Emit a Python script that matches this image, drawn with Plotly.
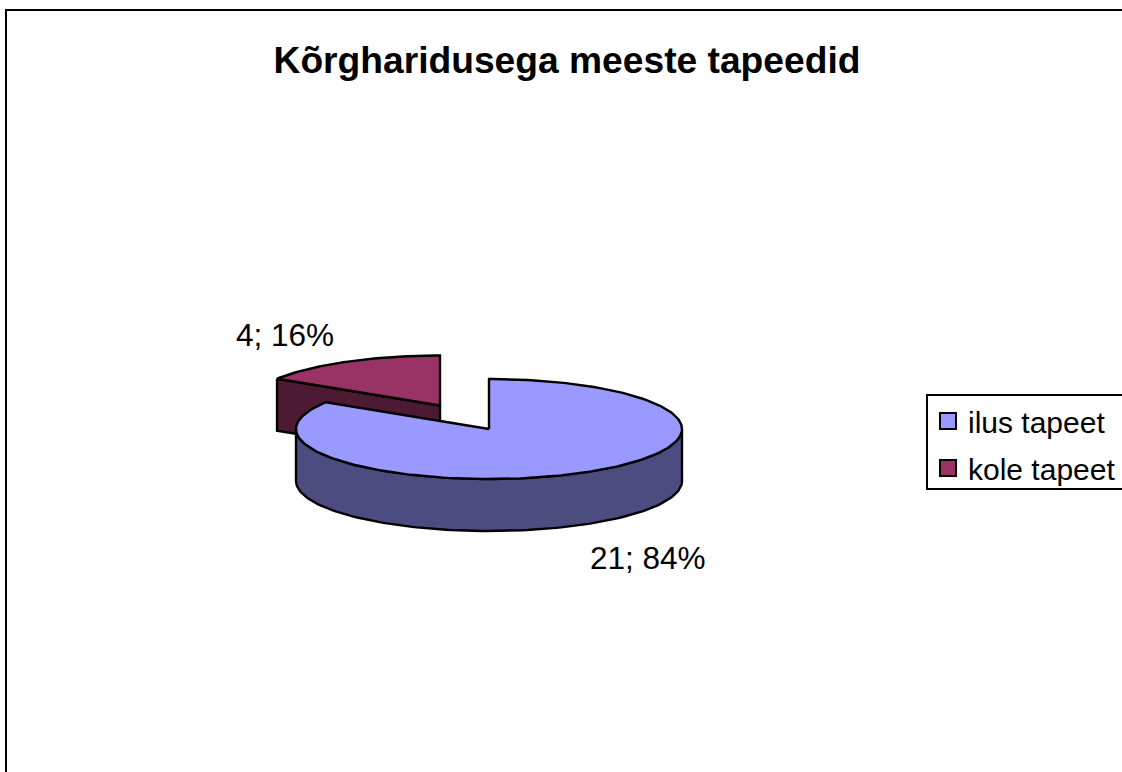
import numpy as np
import plotly.graph_objects as go

categories = ["ilus tapeet", "kole tapeet"]
values = [21, 4]
top_colors = ["#9999FF", "#993366"]
side_colors = ["#4C4C80", "#4D1A33"]
data_labels = ["21; 84%", "4; 16%"]
title_text = "Kõrgharidusega meeste tapeedid"

FONT = "Liberation Sans, Arial, sans-serif"
W, H = 1122, 772
RX, RY, DEPTH = 193, 50, 52
CENTERS = [(489, 429), (440, 405.5)]
LABEL_POS = [(648, 558), (285, 335)]

total = sum(values)
shares = [v / total for v in values]
starts = np.cumsum([0] + shares[:-1]) * 2 * np.pi
ends = np.cumsum(shares) * 2 * np.pi


def ell(c, t, dy=0):
    return c[0] + RX * np.sin(t), c[1] - RY * np.cos(t) + dy


fig = go.Figure()
line = dict(color="black", width=2.4)


def add_poly(xs, ys, color):
    fig.add_trace(go.Scatter(x=list(xs), y=list(ys), mode="lines", fill="toself",
                             fillcolor=color, line=line, showlegend=False,
                             hoverinfo="skip"))


def draw_slice(i):
    c = CENTERS[i]
    a0, a1 = starts[i], ends[i]
    # visible outer wall: the front half of the rim (quarter turn to three quarters)
    w0, w1 = max(a0, np.pi / 2), min(a1, 3 * np.pi / 2)
    if w1 > w0:
        t = np.linspace(w0, w1, 120)
        x, y = ell(c, t)
        xb, yb = ell(c, t[::-1], DEPTH)
        add_poly(np.r_[x, xb, x[0]], np.r_[y, yb, y[0]], side_colors[i])
    # cut face towards the viewer (only when the slice ends in the back-left)
    if i == 1:
        x0, y0 = ell(c, a0)
        add_poly([x0, c[0], c[0], x0, x0],
                 [y0, c[1], c[1] + DEPTH, y0 + DEPTH, y0], side_colors[i])
    # top face
    t = np.linspace(a0, a1, 240)
    x, y = ell(c, t)
    add_poly(np.r_[c[0], x, c[0]], np.r_[c[1], y, c[1]], top_colors[i])


# the exploded back slice goes first, the large slice lies over it
draw_slice(1)
draw_slice(0)

# legend entries
for name, color in zip(categories, top_colors):
    fig.add_trace(go.Scatter(x=[None], y=[None], mode="markers", name=name,
                             legendgroup=name,
                             marker=dict(symbol="square", size=19, color=color,
                                         line=dict(color="black", width=2))))

for text, (lx, ly) in zip(data_labels, LABEL_POS):
    fig.add_annotation(x=lx, y=ly, xref="x", yref="y", text=text, showarrow=False,
                       xanchor="center", yanchor="middle",
                       font=dict(family=FONT, size=31.5, color="black"))

fig.add_shape(type="rect", xref="x", yref="y", x0=6, y0=10, x1=W + 10, y1=H + 10,
              line=dict(color="black", width=2), fillcolor="rgba(0,0,0,0)", layer="below")
# legend frame, which runs past the right edge of the picture
fig.add_shape(type="rect", xref="x", yref="y", x0=927, y0=395, x1=W + 10, y1=489,
              line=dict(color="black", width=2), fillcolor="white", layer="below")

fig.update_layout(
    width=W, height=H, autosize=False,
    margin=dict(l=0, r=0, t=0, b=0, pad=0),
    paper_bgcolor="white", plot_bgcolor="white",
    xaxis=dict(range=[0, W], visible=False, fixedrange=True),
    yaxis=dict(range=[H, 0], visible=False, fixedrange=True),
    title=dict(text="<b>" + title_text + "</b>", x=567 / W, xanchor="center",
               y=1 - 60 / H, yanchor="middle",
               font=dict(family=FONT, size=37.2, color="black")),
    legend=dict(x=928 / W, xanchor="left", y=1 - 395 / H, yanchor="top",
                bgcolor="rgba(0,0,0,0)", borderwidth=0,
                font=dict(family=FONT, size=30, color="black"),
                tracegroupgap=5, itemclick=False, itemdoubleclick=False),
    showlegend=True,
)

fig.write_html("out.html", config=dict(displayModeBar=False),
               post_script="document.body.style.margin='0';document.body.style.overflow='hidden';")
